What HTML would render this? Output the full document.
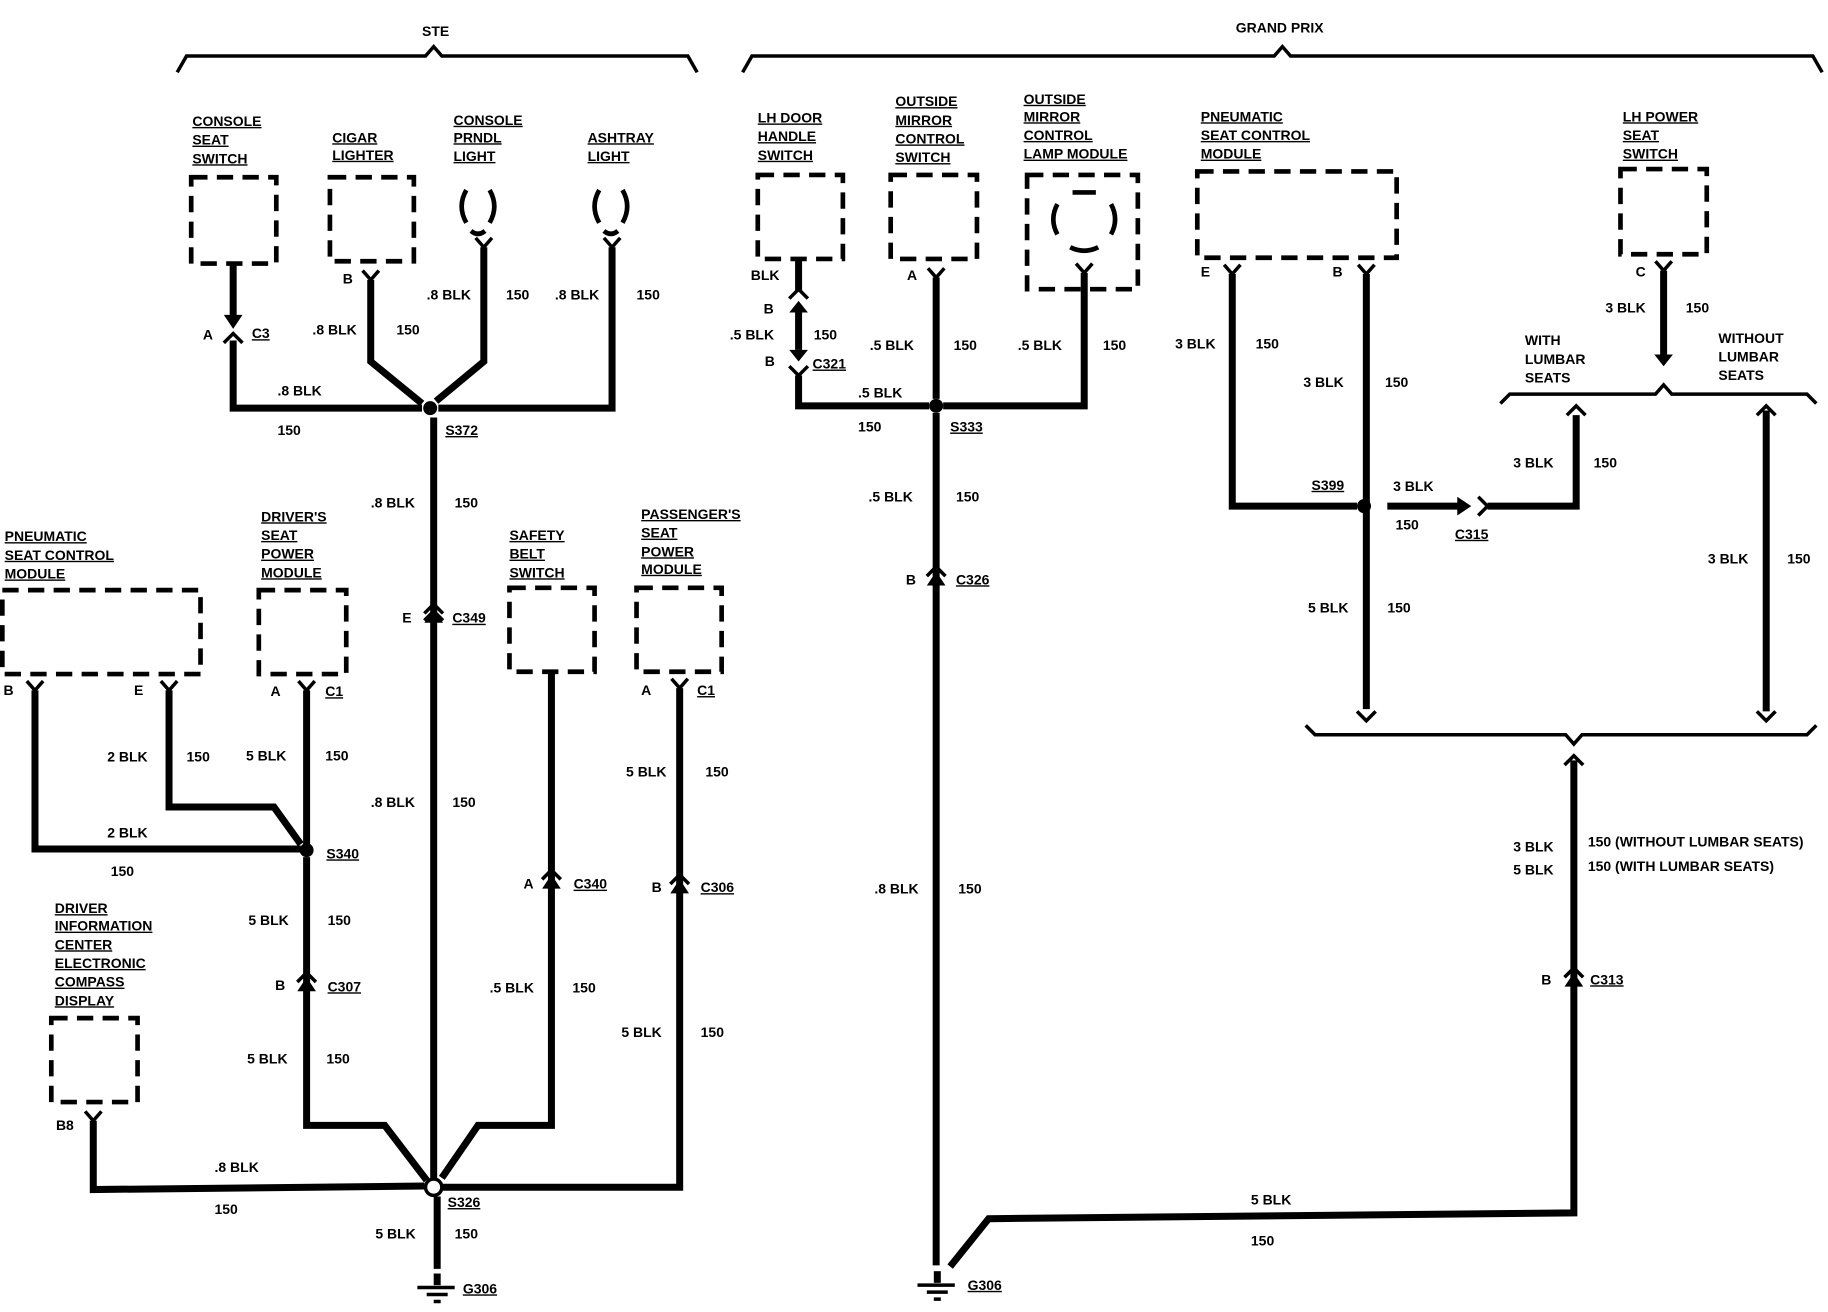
<!DOCTYPE html>
<html><head><meta charset="utf-8"><style>
html,body{margin:0;padding:0;background:#fff;}
svg{display:block;}
text{font-family:"Liberation Sans",sans-serif;font-weight:bold;font-size:12px;fill:#000;}
.w{stroke:#000;stroke-width:6;fill:none;stroke-linejoin:miter;}
.b{stroke:#000;stroke-width:4;fill:none;stroke-dasharray:14 8;}
.c{stroke:#000;stroke-width:3;fill:none;}
.u{text-decoration:underline;}
</style></head><body>
<svg width="1828" height="1312" viewBox="0 0 1568 1125" preserveAspectRatio="none" xmlns="http://www.w3.org/2000/svg">
<rect width="1568" height="1125" fill="#fff"/>
<!-- braces -->
<path class="c" d="M152 62 L160 48 L365 48 L372 40 L379 48 L590 48 L598 62"/>
<text x="362" y="31">STE</text>
<path class="c" d="M637 62 L645 48 L1093 48 L1100 40 L1107 48 L1555 48 L1563 62"/>
<text x="1060" y="28">GRAND PRIX</text>

<!-- STE top -->
<g class="u"><text x="165" y="108">CONSOLE</text><text x="165" y="124">SEAT</text><text x="165" y="140">SWITCH</text>
<text x="285" y="122">CIGAR</text><text x="285" y="137">LIGHTER</text>
<text x="389" y="107">CONSOLE</text><text x="389" y="122">PRNDL</text><text x="389" y="138">LIGHT</text>
<text x="504" y="122">ASHTRAY</text><text x="504" y="138">LIGHT</text></g>
<rect class="b" x="164" y="152" width="73" height="74"/>
<rect class="b" x="283" y="152" width="72" height="72"/>
<path class="c" style="stroke-width:4" d="M400 163 Q392 177 400 191 M420 163 Q428 177 420 191 M404 198 Q410 203 416 198"/>
<path class="c" style="stroke-width:4" d="M514 163 Q506 177 514 191 M534 163 Q542 177 534 191 M518 198 Q524 203 530 198"/>
<path class="w" d="M200 226 L200 274"/><path d="M192 270 L200 282 L208 270Z"/>
<path class="c" d="M192 294 L200 286 L208 294"/>
<path class="w" d="M200 292 L200 350 L362 350"/>
<text x="174" y="291">A</text><text x="216" y="290" class="u">C3</text>
<text x="238" y="339">.8 BLK</text><text x="238" y="373">150</text>
<path class="c" d="M311 232 L318 240 L325 232"/>
<path class="w" d="M318 240 L318 310 L362 346"/>
<text x="294" y="243">B</text><text x="268" y="287">.8 BLK</text><text x="340" y="287">150</text>
<path class="c" d="M408 204 L415 212 L422 204"/>
<path class="w" d="M415 212 L415 310 L374 344"/>
<text x="366" y="257">.8 BLK</text><text x="434" y="257">150</text>
<path class="c" d="M518 204 L525 212 L532 204"/>
<path class="w" d="M525 212 L525 350 L376 350"/>
<text x="476" y="257">.8 BLK</text><text x="546" y="257">150</text>
<circle cx="369" cy="350" r="6"/>
<text x="382" y="373" class="u">S372</text>
<path class="w" d="M372 358 L372 1010"/>
<path d="M364 534 L372 522 L380 534Z"/><path class="c" d="M364 532 L372 524 L380 532"/>
<path class="c" d="M364 526 L372 518 L380 526"/>
<text x="345" y="534">E</text><text x="388" y="534" class="u">C349</text>
<text x="318" y="435">.8 BLK</text><text x="390" y="435">150</text>
<text x="318" y="692">.8 BLK</text><text x="388" y="692">150</text>

<!-- left middle -->
<g class="u"><text x="4" y="464">PNEUMATIC</text><text x="4" y="480">SEAT CONTROL</text><text x="4" y="496">MODULE</text>
<text x="224" y="447">DRIVER'S</text><text x="224" y="463">SEAT</text><text x="224" y="479">POWER</text><text x="224" y="495">MODULE</text>
<text x="437" y="463">SAFETY</text><text x="437" y="479">BELT</text><text x="437" y="495">SWITCH</text>
<text x="550" y="445">PASSENGER'S</text><text x="550" y="461">SEAT</text><text x="550" y="477">POWER</text><text x="550" y="492">MODULE</text></g>
<rect class="b" x="2" y="506" width="170" height="72"/>
<rect class="b" x="222" y="506" width="75" height="72"/>
<rect class="b" x="437" y="504" width="73" height="72"/>
<rect class="b" x="546" y="504" width="73" height="72"/>
<path class="c" d="M23 584 L30 592 L37 584 M138 584 L145 592 L152 584 M256 584 L263 592 L270 584 M576 582 L583 590 L590 582"/>
<path class="w" d="M30 592 L30 728 L258 728"/>
<path class="w" d="M145 592 L145 692 L235 692 L258 724"/>
<text x="3" y="596">B</text><text x="115" y="596">E</text>
<text x="92" y="653">2 BLK</text><text x="160" y="653">150</text>
<text x="92" y="718">2 BLK</text><text x="95" y="751">150</text>
<path class="w" d="M263 592 L263 728"/>
<text x="232" y="597">A</text><text x="279" y="597" class="u">C1</text>
<text x="211" y="652">5 BLK</text><text x="279" y="652">150</text>
<circle cx="263" cy="729" r="6"/>
<text x="280" y="736" class="u">S340</text>
<path class="w" d="M263 735 L263 965 L330 965 L366 1012"/>
<path d="M255 850 L263 838 L271 850Z"/><path class="c" d="M255 842 L263 834 L271 842"/>
<text x="236" y="849">B</text><text x="281" y="850" class="u">C307</text>
<text x="213" y="793">5 BLK</text><text x="281" y="793">150</text>
<text x="212" y="912">5 BLK</text><text x="280" y="912">150</text>
<path class="w" d="M473 576 L473 965 L410 965 L379 1010"/>
<path d="M465 762 L473 750 L481 762Z"/><path class="c" d="M465 754 L473 746 L481 754"/>
<text x="449" y="762">A</text><text x="492" y="762" class="u">C340</text>
<text x="420" y="851">.5 BLK</text><text x="491" y="851">150</text>
<path class="w" d="M583 590 L583 1018 L380 1018"/>
<path d="M575 766 L583 754 L591 766Z"/><path class="c" d="M575 758 L583 750 L591 758"/>
<text x="550" y="596">A</text><text x="598" y="596" class="u">C1</text>
<text x="559" y="765">B</text><text x="601" y="765" class="u">C306</text>
<text x="537" y="666">5 BLK</text><text x="605" y="666">150</text>
<text x="533" y="889">5 BLK</text><text x="601" y="889">150</text>

<g class="u"><text x="47" y="783">DRIVER</text><text x="47" y="798">INFORMATION</text><text x="47" y="814">CENTER</text><text x="47" y="830">ELECTRONIC</text><text x="47" y="846">COMPASS</text><text x="47" y="862">DISPLAY</text></g>
<rect class="b" x="44" y="873" width="74" height="72"/>
<path class="c" d="M73 953 L80 961 L87 953"/>
<path class="w" d="M80 961 L80 1020 L364 1017"/>
<text x="48" y="969">B8</text><text x="184" y="1005">.8 BLK</text><text x="184" y="1041">150</text>
<circle cx="372" cy="1018" r="7" fill="#fff" stroke="#000" stroke-width="3"/>
<text x="384" y="1035" class="u">S326</text>
<path class="w" d="M375 1026 L375 1088"/>
<text x="322" y="1062">5 BLK</text><text x="390" y="1062">150</text>
<path d="M372 1092 L378 1092 L378 1102 L372 1102Z"/>
<path class="c" d="M358 1104 L390 1104 M366 1110 L384 1110 M372 1116 L378 1116"/>
<text x="397" y="1109" class="u">G306</text>

<!-- right -->
<g class="u"><text x="650" y="105">LH DOOR</text><text x="650" y="121">HANDLE</text><text x="650" y="137">SWITCH</text>
<text x="768" y="91">OUTSIDE</text><text x="768" y="107">MIRROR</text><text x="768" y="123">CONTROL</text><text x="768" y="139">SWITCH</text>
<text x="878" y="89">OUTSIDE</text><text x="878" y="104">MIRROR</text><text x="878" y="120">CONTROL</text><text x="878" y="136">LAMP MODULE</text>
<text x="1030" y="104">PNEUMATIC</text><text x="1030" y="120">SEAT CONTROL</text><text x="1030" y="136">MODULE</text>
<text x="1392" y="104">LH POWER</text><text x="1392" y="120">SEAT</text><text x="1392" y="136">SWITCH</text></g>
<rect class="b" x="650" y="150" width="73" height="72"/>
<rect class="b" x="764" y="150" width="74" height="72"/>
<rect class="b" x="881" y="150" width="95" height="98"/>
<rect class="b" x="1027" y="147" width="171" height="74"/>
<rect class="b" x="1390" y="145" width="74" height="73"/>
<path class="c" style="stroke-width:4" d="M907 175 Q900 188 907 201 M953 175 Q960 188 953 201 M920 165 L940 165 M918 212 Q930 218 942 212"/>
<path class="w" d="M685 222 L685 250"/>
<path class="c" d="M677 256 L685 248 L693 256 M677 314 L685 322 L693 314"/>
<path class="w" d="M685 268 L685 300"/><path d="M677 268 L685 258 L693 268Z M677 300 L685 310 L693 300Z"/>
<path class="w" d="M685 322 L685 348 L797 348"/>
<text x="644" y="240">BLK</text><text x="655" y="269">B</text><text x="626" y="291">.5 BLK</text><text x="656" y="314">B</text>
<text x="698" y="291">150</text><text x="697" y="316" class="u">C321</text>
<text x="736" y="341">.5 BLK</text><text x="736" y="370">150</text>
<path class="c" d="M796 230 L803 238 L810 230 M923 226 L930 234 L937 226"/>
<path class="w" d="M803 238 L803 342"/>
<text x="778" y="240">A</text><text x="746" y="300">.5 BLK</text><text x="818" y="300">150</text>
<path class="w" d="M930 234 L930 348 L809 348"/>
<text x="873" y="300">.5 BLK</text><text x="946" y="300">150</text>
<circle cx="803" cy="348" r="6"/>
<text x="815" y="370" class="u">S333</text>
<path class="w" d="M803 354 L803 1085"/>
<path d="M795 502 L803 490 L811 502Z"/><path class="c" d="M795 494 L803 486 L811 494"/>
<text x="777" y="501">B</text><text x="820" y="501" class="u">C326</text>
<text x="745" y="430">.5 BLK</text><text x="820" y="430">150</text>
<text x="750" y="766">.8 BLK</text><text x="822" y="766">150</text>
<path class="w" d="M815 1086 L848 1045 L1350 1040 L1350 652"/>
<text x="1073" y="1033">5 BLK</text><text x="1073" y="1068">150</text>
<path d="M801 1090 L807 1090 L807 1100 L801 1100Z"/>
<path class="c" d="M787 1102 L819 1102 M795 1108 L813 1108 M801 1114 L807 1114"/>
<text x="830" y="1106" class="u">G306</text>

<path class="c" d="M1050 227 L1057 235 L1064 227 M1165 227 L1172 235 L1179 227 M1420 224 L1427 232 L1434 224"/>
<path class="w" d="M1057 235 L1057 434 L1164 434"/>
<text x="1030" y="237">E</text><text x="1008" y="299">3 BLK</text><text x="1077" y="299">150</text>
<path class="w" d="M1172 235 L1172 608"/>
<path class="c" d="M1164 610 L1172 618 L1180 610"/>
<text x="1143" y="237">B</text><text x="1118" y="332">3 BLK</text><text x="1188" y="332">150</text>
<text x="1125" y="420" class="u">S399</text>
<circle cx="1170" cy="434" r="6"/>
<path class="w" d="M1190 434 L1252 434"/><path d="M1250 426 L1262 434 L1250 442Z"/>
<path class="c" d="M1268 426 L1276 434 L1268 442"/>
<path class="w" d="M1276 434 L1352 434 L1352 356"/>
<text x="1195" y="421">3 BLK</text><text x="1197" y="454">150</text>
<text x="1248" y="462" class="u">C315</text>
<text x="1122" y="525">5 BLK</text><text x="1190" y="525">150</text>
<path class="w" d="M1427 232 L1427 306"/><path d="M1419 304 L1427 314 L1435 304Z"/>
<text x="1403" y="237">C</text><text x="1377" y="268">3 BLK</text><text x="1446" y="268">150</text>
<text x="1308" y="296">WITH</text><text x="1308" y="312">LUMBAR</text><text x="1308" y="328">SEATS</text>
<text x="1474" y="294">WITHOUT</text><text x="1474" y="310">LUMBAR</text><text x="1474" y="326">SEATS</text>
<path class="c" d="M1287 346 L1295 338 L1420 338 L1427 330 L1434 338 L1550 338 L1558 346"/>
<path class="c" d="M1344 356 L1352 348 L1360 356 M1507 356 L1515 348 L1523 356"/>
<text x="1298" y="401">3 BLK</text><text x="1367" y="401">150</text>
<path class="w" d="M1515 352 L1515 610"/>
<path class="c" d="M1507 610 L1515 618 L1523 610"/>
<text x="1465" y="483">3 BLK</text><text x="1533" y="483">150</text>
<path class="c" d="M1120 622 L1128 630 L1343 630 L1350 638 L1357 630 L1550 630 L1558 622"/>
<path class="c" d="M1342 656 L1350 648 L1358 656"/>
<text x="1298" y="730">3 BLK</text><text x="1298" y="750">5 BLK</text>
<text x="1362" y="726">150 (WITHOUT LUMBAR SEATS)</text><text x="1362" y="747">150 (WITH LUMBAR SEATS)</text>
<path d="M1342 846 L1350 834 L1358 846Z"/><path class="c" d="M1342 838 L1350 830 L1358 838"/>
<text x="1322" y="844">B</text><text x="1364" y="844" class="u">C313</text>
</svg>
</body></html>
